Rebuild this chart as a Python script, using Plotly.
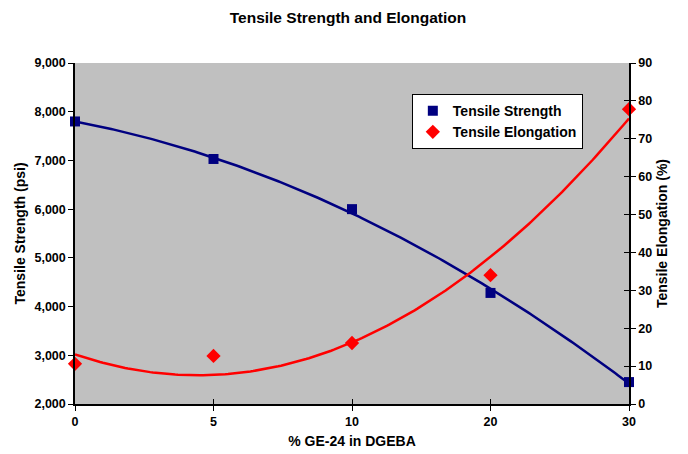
import numpy as np
import plotly.graph_objects as go

categories = ["0", "5", "10", "20", "30"]
tensile_strength = [7800, 7030, 6000, 4280, 2450]
tensile_elongation = [10.6, 12.7, 16.1, 34.0, 77.8]

idx = np.arange(1, len(categories) + 1)
xs = np.linspace(1, len(categories), 200)
fit_s = np.polyval(np.polyfit(idx, tensile_strength, 2), xs)
fit_e = np.polyval(np.polyfit(idx, tensile_elongation, 2), xs)

NAVY = "#000080"
RED = "#FF0000"
FONT = "Liberation Sans, Arial, sans-serif"

fig = go.Figure()
fig.add_trace(go.Scatter(x=xs, y=fit_s, mode="lines", line=dict(color=NAVY, width=2.5),
                         showlegend=False, hoverinfo="skip", yaxis="y"))
fig.add_trace(go.Scatter(x=xs, y=fit_e, mode="lines", line=dict(color=RED, width=2.5),
                         showlegend=False, hoverinfo="skip", yaxis="y2"))
fig.add_trace(go.Scatter(x=idx, y=tensile_strength, mode="markers", name="Tensile Strength",
                         marker=dict(symbol="square", size=10, color=NAVY), cliponaxis=False, yaxis="y"))
fig.add_trace(go.Scatter(x=idx, y=tensile_elongation, mode="markers", name="Tensile Elongation",
                         marker=dict(symbol="diamond", size=11, color=RED), cliponaxis=False, yaxis="y2"))

tickfont = dict(family=FONT, size=12.5, color="black", weight="bold")
titlefont = dict(family=FONT, size=14, color="black", weight="bold")

fig.update_layout(
    width=680, height=446,
    margin=dict(l=67, r=59, t=55, b=50, autoexpand=False),
    paper_bgcolor="white", plot_bgcolor="#C0C0C0",
    title=dict(text="Tensile Strength and Elongation", x=0.5, xanchor="center", y=0.978, yanchor="middle",
               font=dict(family=FONT, size=15.5, color="black", weight="bold")),
    xaxis=dict(range=[1, 5], tickvals=list(idx), ticktext=categories, showgrid=False, zeroline=False,
               showline=True, linecolor="black", linewidth=1.5, ticks="outside", ticklen=5, tickcolor="black",
               tickfont=tickfont, automargin=False,
               title=dict(text="% GE-24 in DGEBA", font=titlefont, standoff=8)),
    xaxis2=dict(range=[1, 5], tickvals=list(idx), overlaying="x", showticklabels=False, showgrid=False,
                zeroline=False, ticks="inside", ticklen=5, tickcolor="black", side="bottom", anchor="y",
                automargin=False),
    yaxis=dict(range=[2000, 9000], dtick=1000, tickformat=",", showgrid=False, zeroline=False,
               showline=True, linecolor="black", linewidth=1.5, ticks="outside", ticklen=5, tickcolor="black",
               tickfont=tickfont, automargin=False,
               title=dict(text="Tensile Strength (psi)", font=titlefont, standoff=6)),
    yaxis2=dict(range=[0, 90], dtick=10, overlaying="y", side="right", showgrid=False, zeroline=False,
                showline=True, linecolor="black", linewidth=1.5, ticks="outside", ticklen=5, tickcolor="black",
                tickfont=tickfont, automargin=False,
                title=dict(text="Tensile Elongation (%)", font=titlefont, standoff=6)),
    yaxis3=dict(range=[0, 90], dtick=10, overlaying="y", side="right", showgrid=False, zeroline=False,
                showticklabels=False, ticks="inside", ticklen=5, tickcolor="black", anchor="x",
                automargin=False),
    legend=dict(x=0.608, y=0.909, xanchor="left", yanchor="top", bgcolor="white", bordercolor="black",
                borderwidth=1, font=dict(family=FONT, size=14, color="black", weight="bold"),
                itemwidth=30, tracegroupgap=0),
    showlegend=True,
)
fig.add_trace(go.Scatter(x=[None], y=[None], xaxis="x2", yaxis="y", showlegend=False, hoverinfo="skip"))
fig.add_trace(go.Scatter(x=[None], y=[None], xaxis="x", yaxis="y3", showlegend=False, hoverinfo="skip"))

fig.write_html("out.html")
